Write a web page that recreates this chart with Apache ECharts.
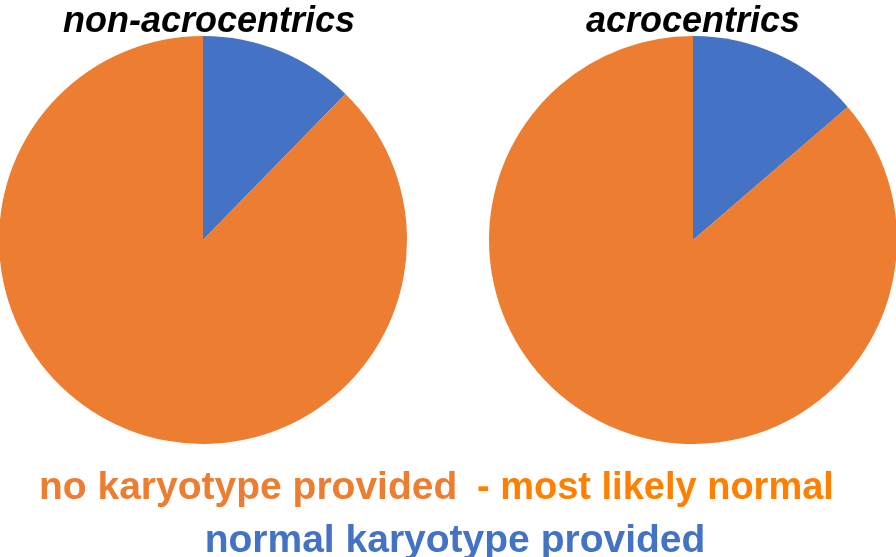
<!DOCTYPE html>
<html>
<head>
<meta charset="utf-8">
<script src="https://cdn.jsdelivr.net/npm/echarts@6/dist/echarts.min.js"></script>
<style>
  html, body { margin: 0; padding: 0; background: #fff; }
  #chart { width: 896px; height: 557px; }
</style>
</head>
<body>
<div id="chart"></div>
<script>
// values (percent of each pie)
var pieTitles = ['non-acrocentrics', 'acrocentrics'];
var categories = ['normal karyotype provided', 'no karyotype provided'];
var noteText = '- most likely normal';
var nonAcroValues = [12.3, 87.7];
var acroValues = [13.7, 86.3];

var blue = '#4472C4';
var orange = '#ED7D31';

var myChart = echarts.init(document.getElementById('chart'));

function pieData(values) {
    return values.map(function (v, i) {
        return { name: categories[i], value: v };
    });
}

var pieBase = {
    type: 'pie',
    radius: 204,
    startAngle: 90,
    clockwise: true,
    silent: true,
    label: { show: false },
    labelLine: { show: false },
    itemStyle: { borderWidth: 0 },
    color: [blue, orange]
};

var titleFont = { fontFamily: 'Liberation Sans', fontStyle: 'italic', fontWeight: 'bold', fontSize: 36, color: '#000' };
var legendFont = { fontFamily: 'Liberation Sans', fontWeight: 'bold', fontSize: 39 };

var option = {
    animation: false,
    title: [
        { text: pieTitles[0], left: 204, top: -1, textAlign: 'center', textStyle: titleFont },
        { text: pieTitles[1], left: 688, top: -1, textAlign: 'center', textStyle: titleFont },
        // legend line 1, two colours
        { text: categories[1], left: 34, top: 464, textStyle: Object.assign({ color: orange }, legendFont) },
        { text: noteText, left: 472, top: 465, textStyle: Object.assign({}, legendFont, { color: '#FF8000', fontSize: 38 }) },
        // legend line 2
        { text: categories[0], left: 450, top: 517, textAlign: 'center', textStyle: Object.assign({ color: blue }, legendFont) }
    ],
    series: [
        Object.assign({}, pieBase, { name: pieTitles[0], center: [203, 240], data: pieData(nonAcroValues) }),
        Object.assign({}, pieBase, { name: pieTitles[1], center: [693, 240], data: pieData(acroValues) })
    ]
};

myChart.setOption(option);
</script>
</body>
</html>
